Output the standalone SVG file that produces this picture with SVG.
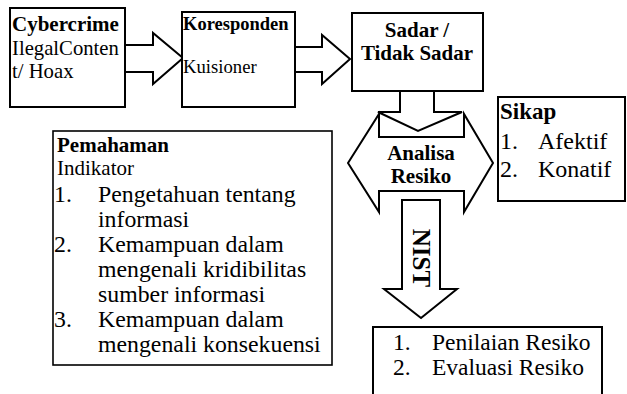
<svg xmlns="http://www.w3.org/2000/svg" width="627" height="394" viewBox="0 0 627 394" font-family="'Liberation Serif', serif">
<style>
.box{fill:#fff;stroke:#000;stroke-width:2}
.arr{fill:#fff;stroke:#000;stroke-width:2;stroke-linejoin:miter}
text{font-family:'Liberation Serif',serif;fill:#000}
.b{font-weight:bold}
</style>
<rect width="627" height="394" fill="#fff"/>
<g id="connectors">
<polygon class="arr" points="125,45 153,45 153,33 183,58 153,84 153,72 125,72"/>
<polygon class="arr" points="295,47 322,47 322,35 350,59 322,84 322,72 295,72"/>
<polygon class="arr" points="400,91 434,91 434,112 462,112 418,131 378,112 400,112"/>
<polygon class="arr" points="402,200 440,200 440,289 457,289 421,318 384,289 402,289"/>
<text class="b" font-size="25" text-anchor="middle" transform="translate(413,258) rotate(90)">NIST</text>
</g>
<g id="cybercrime">
<rect class="box" x="10" y="8" width="115" height="99"/>
<text class="b" x="12" y="31" font-size="21">Cybercrime</text>
<text x="12" y="55" font-size="20.7">IlegalConten</text>
<text x="12" y="78" font-size="20.7">t/ Hoax</text>
</g>
<g id="koresponden">
<rect class="box" x="182" y="12" width="113" height="95"/>
<text class="b" x="183" y="30" font-size="18.5">Koresponden</text>
<text x="183" y="73" font-size="18.7">Kuisioner</text>
</g>
<g id="sadar">
<rect class="box" x="352" y="13" width="131" height="78"/>
<text class="b" x="417" y="37" font-size="21" text-anchor="middle">Sadar /</text>
<text class="b" x="417" y="60" font-size="21" text-anchor="middle">Tidak Sadar</text>
</g>
<g id="analisa">
<polygon class="arr" points="348,163 379,114 379,137 464,137 464,114 493,163 464,212 464,191 379,191 379,212"/>
<text class="b" x="421" y="160" font-size="21" text-anchor="middle">Analisa</text>
<text class="b" x="421" y="183" font-size="21" text-anchor="middle">Resiko</text>
</g>
<g id="sikap">
<rect class="box" x="498" y="97" width="127" height="104"/>
<text class="b" x="500" y="119" font-size="23">Sikap</text>
<text x="500" y="149" font-size="24">1.</text>
<text x="538" y="149" font-size="24">Afektif</text>
<text x="500" y="177" font-size="24">2.</text>
<text x="538" y="177" font-size="24">Konatif</text>
</g>
<g id="pemahaman">
<rect class="box" x="53" y="131" width="279" height="234" style="stroke-width:1.6"/>
<text class="b" x="57" y="152" font-size="21">Pemahaman</text>
<text x="57" y="175" font-size="21">Indikator</text>
<g font-size="23.8">
<text x="54" y="202">1.</text>
<text x="98" y="202">Pengetahuan tentang</text>
<text x="98" y="227">informasi</text>
<text x="54" y="252">2.</text>
<text x="98" y="252">Kemampuan dalam</text>
<text x="98" y="277">mengenali kridibilitas</text>
<text x="98" y="302">sumber informasi</text>
<text x="54" y="327">3.</text>
<text x="98" y="327">Kemampuan dalam</text>
<text x="98" y="352">mengenali konsekuensi</text>
</g>
</g>
<g id="hasil">
<rect class="box" x="373" y="327" width="229" height="80"/>
<g font-size="23.5">
<text x="393" y="350">1.</text>
<text x="432" y="350">Penilaian Resiko</text>
<text x="393" y="375">2.</text>
<text x="432" y="375">Evaluasi Resiko</text>
</g>
</g>
</svg>
